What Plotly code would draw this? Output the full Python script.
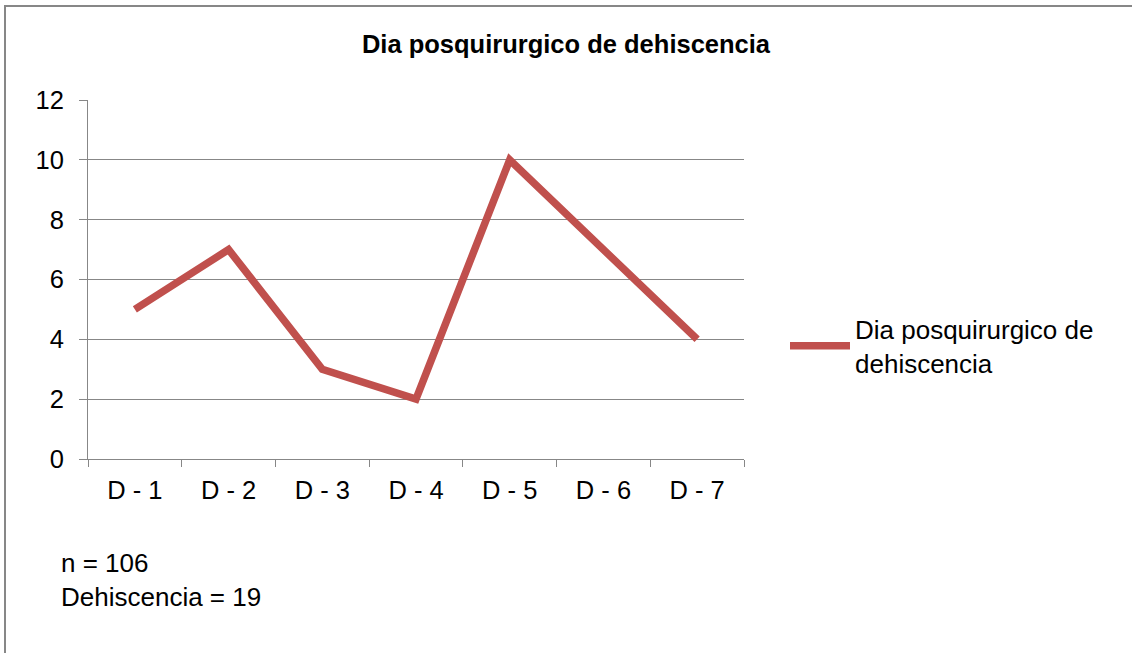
import plotly.graph_objects as go

categories = ["D - 1", "D - 2", "D - 3", "D - 4", "D - 5", "D - 6", "D - 7"]
values = [5, 7, 3, 2, 10, 7, 4]
series_name = "Dia posquirurgico de<br>dehiscencia"
title_text = "Dia posquirurgico de dehiscencia"
note_lines = ["n = 106", "Dehiscencia = 19"]

W, H = 1132, 653
L, R, T, B = 88, 744, 100, 459
pw, ph = R - L, B - T


def px(x):
    return (x - L) / pw


def py(y):
    return (B - y) / ph


FONT = "Liberation Sans, Arial, sans-serif"
GRID = "#878787"
FS = 25.5

fig = go.Figure()
fig.add_trace(go.Scatter(
    x=categories, y=values, mode="lines", name=series_name,
    line=dict(color="#C0504D", width=7.5),
    showlegend=True,
))

fig.update_layout(
    width=W, height=H,
    margin=dict(l=L, r=W - R, t=T, b=H - B),
    paper_bgcolor="white", plot_bgcolor="white",
    font=dict(family=FONT, size=FS, color="black"),
    title=dict(text="<b>" + title_text + "</b>", x=px(566), xref="paper", xanchor="center",
               y=1 - 44 / H, yanchor="middle", font=dict(size=25.5, color="black")),
    showlegend=True,
    legend=dict(x=px(785), xanchor="left", y=py(346), yanchor="middle",
                font=dict(size=26), bgcolor="rgba(0,0,0,0)", itemwidth=60),
    xaxis=dict(
        type="category", showgrid=False, showline=True, linecolor=GRID, linewidth=1,
        ticks="outside", tickson="boundaries", ticklen=7, tickcolor=GRID, tickwidth=1,
        tickfont=dict(size=FS), range=[-0.5, 6.5], fixedrange=True,
        ticklabelstandoff=8,
    ),
    yaxis=dict(
        range=[0, 12], dtick=2, showgrid=True, gridcolor=GRID, gridwidth=1,
        showline=True, linecolor=GRID, linewidth=1, ticks="outside", ticklen=8,
        tickcolor=GRID, tickwidth=1, tickfont=dict(size=FS), zeroline=False,
        ticklabelstandoff=10, fixedrange=True,
    ),
)

# chart frame (only left and top edges are visible in the crop)
fig.add_shape(type="line", xref="paper", yref="paper",
              x0=px(5), x1=px(5), y0=py(700), y1=py(6),
              line=dict(color="#878787", width=2), layer="below")
fig.add_shape(type="line", xref="paper", yref="paper",
              x0=px(4), x1=px(1200), y0=py(6), y1=py(6),
              line=dict(color="#878787", width=2), layer="below")

fig.add_annotation(text="<br>".join(note_lines), xref="paper", yref="paper",
                   x=px(59), y=py(580), xanchor="left", yanchor="middle",
                   align="left", showarrow=False, font=dict(size=26, color="black"))

fig.write_html("out.html", config={"displayModeBar": False},
               post_script="document.body.style.margin='0';document.body.style.overflow='hidden';")
